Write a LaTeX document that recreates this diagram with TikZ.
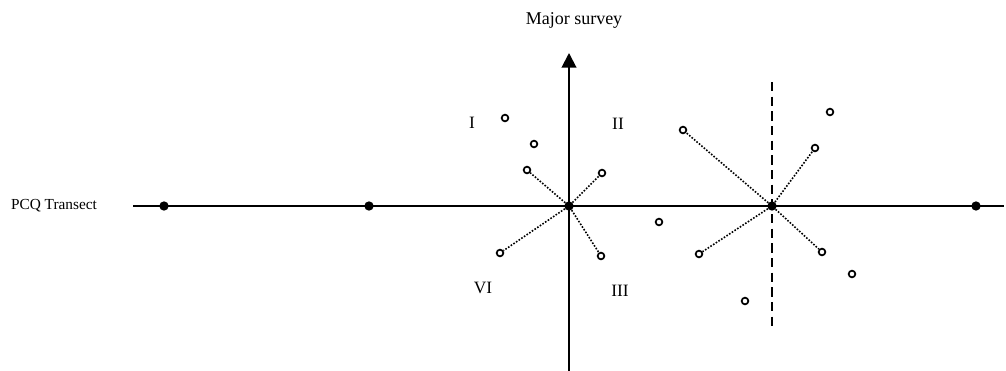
\documentclass[tikz,border=0pt]{standalone}
\usepackage{fontspec}
\setmainfont{Liberation Serif}
\usetikzlibrary{arrows.meta}
\tikzset{
  stn/.style={circle, fill=black, inner sep=0pt, minimum size=7pt},
  tree/.style={circle, draw=black, line width=1.3pt, fill=white, inner sep=0pt, minimum size=5pt},
  quad/.style={font=\fontsize{13}{15}\selectfont},
  dist/.style={line width=1.2pt, dash pattern=on 1.2pt off 1.2pt}
}
\begin{document}
\begin{tikzpicture}[x=0.75pt, y=-0.75pt]
	\useasboundingbox (0,0) rectangle (1006,371);
	% axes
	\coordinate (tL) at (133,206);
	\coordinate (tR) at (1004,206);
	\coordinate (aB) at (569,371);
	\coordinate (aT) at (569,53);
	\coordinate (dT) at (772,82);
	\coordinate (dB) at (772,331);
	\draw[line width=1.5pt] (tL) -- (tR);
	\draw[line width=1.5pt, -{Triangle[length=11pt, width=11pt]}] (aB) -- (aT);
	\draw[line width=1.5pt, dash pattern=on 7pt off 4pt] (dT) -- (dB);
	\node (survey) at (574,20) {\fontsize{13.5}{16}\selectfont Major survey};
	\node (transect) at (54,206) {\fontsize{11.5}{14}\selectfont PCQ Transect};
	% quadrants
	\node[quad] (qI) at (472,123) {I};
	\node[quad] (qII) at (618,124) {II};
	\node[quad] (qIII) at (620,291) {III};
	\node[quad] (qVI) at (483,288) {VI};
	% sample points on the transect
	\node[stn] (p1) at (164,206) {};
	\node[stn] (p2) at (369,206) {};
	\node[stn] (p3) at (569,206) {};
	\node[stn] (p4) at (772,206) {};
	\node[stn] (p5) at (976,206) {};
	% trees
	\node[tree] (t1) at (505,118) {};
	\node[tree] (t2) at (534,144) {};
	\node[tree] (t3) at (527,170) {};
	\node[tree] (t4) at (602,173) {};
	\node[tree] (t5) at (500,253) {};
	\node[tree] (t6) at (601,256) {};
	\node[tree] (t7) at (659,222) {};
	\node[tree] (t8) at (683,130) {};
	\node[tree] (t9) at (830,112) {};
	\node[tree] (t10) at (815,148) {};
	\node[tree] (t11) at (699,254) {};
	\node[tree] (t12) at (822,252) {};
	\node[tree] (t13) at (852,274) {};
	\node[tree] (t14) at (745,301) {};
	% nearest tree per quarter
	\foreach \t in {t3,t4,t5,t6} \draw[dist] (p3) -- (\t);
	\foreach \t in {t8,t10,t11,t12} \draw[dist] (p4) -- (\t);
\end{tikzpicture}
\end{document}
